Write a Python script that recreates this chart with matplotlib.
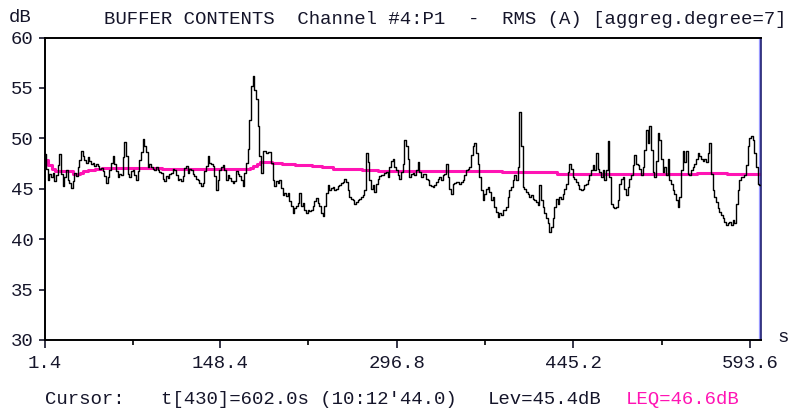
import numpy as np
import matplotlib
matplotlib.use('Agg')
import matplotlib.pyplot as plt

# RMS (A) levels, one sample every 1.4 s
LEV_1 = [48.4, 47.0, 45.9, 46.5, 46.2, 46.6, 45.8, 46.4, 47.4, 48.4,
         46.5, 45.3, 46.2, 46.9, 45.9, 45.6, 45.1, 45.8, 46.6, 46.3,
         47.2, 47.9, 48.7, 48.2, 47.9, 47.6, 48.1, 47.8, 47.5, 47.6,
         47.3, 47.5, 47.3, 47.0, 47.1, 46.8, 46.3, 45.6, 46.2, 46.9,
         47.6, 48.2, 47.5, 46.8, 46.2, 46.5, 46.4, 48.1, 49.6, 48.2,
         46.5, 46.2, 46.8, 46.9, 46.4, 45.9, 46.8, 47.9, 48.6, 49.9,
         49.2, 48.6, 47.2, 47.5, 47.2, 47.0, 46.9, 47.2, 46.9, 46.7,
         46.6, 46.0, 45.8, 46.3, 46.1, 46.5, 46.6, 47.0, 46.9, 46.4,
         45.9, 46.0, 45.8, 46.3]
LEV_2 = [47.1, 47.3, 46.6, 47.0, 46.9, 46.5, 46.3, 46.0, 45.9, 45.6,
         45.3, 45.6, 46.8, 47.3, 48.2, 47.6, 47.5, 47.3, 46.3, 44.9,
         45.9, 46.9, 47.2, 47.4, 46.9, 45.9, 46.4, 46.1, 45.8, 45.6,
         45.8, 46.8, 46.5, 46.3, 45.9, 45.3, 46.6, 47.6, 48.9, 51.8,
         55.2, 56.2, 54.8, 53.9, 51.2, 48.2, 46.6, 48.7, 48.7, 48.5,
         48.6, 48.6, 47.6, 45.9, 45.3, 45.8, 45.6, 45.9, 45.1, 44.4,
         44.6, 44.3, 44.6, 43.8, 43.3, 42.6, 43.1, 43.3, 43.6, 44.6,
         43.3, 43.6, 42.9, 42.6, 42.9, 42.8, 42.9, 43.3, 43.8, 44.1,
         43.6, 43.3, 42.6, 42.3, 43.3, 44.6, 45.4]
LEV_3 = [44.9, 45.1, 45.2, 44.9, 45.0, 45.3, 45.4, 45.6, 45.7, 46.0,
         45.7, 44.9, 44.2, 44.0, 43.9, 43.5, 43.7, 43.9, 44.0, 44.2,
         44.4, 44.9, 48.5, 47.7, 45.9, 45.0, 45.4, 44.7, 45.5, 46.0,
         46.3, 46.4, 46.4, 46.6, 46.7, 46.2, 47.2, 47.8, 48.0, 47.2,
         46.9, 46.4, 46.0, 46.7, 47.5, 49.8, 49.2, 48.0, 46.2, 46.5,
         46.6, 46.4, 46.9, 47.7, 46.7, 46.2, 46.5, 46.5, 46.0, 45.9,
         45.4, 45.3, 45.2, 45.4, 45.7, 46.0, 46.2, 45.9, 46.4, 46.5,
         47.5, 46.2, 45.0, 44.5, 45.5, 45.6, 45.7, 45.7, 45.5, 45.7,
         45.9, 46.4, 46.9, 47.0, 47.2, 48.3, 49.2]
LEV_4 = [49.5, 48.5, 47.5, 46.2, 44.9, 43.9, 44.5, 45.0, 45.2, 44.7,
         43.9, 44.2, 43.2, 42.7, 42.2, 42.6, 42.4, 42.9, 42.9, 43.2,
         44.2, 44.9, 45.2, 45.9, 46.4, 45.9, 47.2, 52.6, 49.2, 45.2,
         45.0, 44.7, 44.5, 44.2, 44.4, 44.0, 43.9, 43.7, 43.4, 45.4,
         43.9, 43.2, 42.6, 42.1, 41.6, 40.7, 41.2, 42.1, 43.2, 44.0,
         43.5, 44.2, 44.0, 44.5, 45.0, 45.5, 46.7, 47.5, 47.0, 46.2,
         46.0, 45.7, 45.4, 45.0, 44.9, 45.0, 45.4, 45.5, 45.9, 46.4,
         46.9, 47.4, 46.9, 48.5, 47.0, 46.7, 46.2, 46.9, 45.9, 46.9,
         49.7, 46.2, 43.5, 43.2, 43.1, 43.2, 43.9]
LEV_5 = [45.5, 46.0, 46.2, 45.0, 44.4, 45.2, 46.0, 46.4, 47.4, 48.3,
         47.5, 47.4, 47.0, 46.4, 47.2, 48.8, 50.8, 49.5, 51.2, 48.8,
         46.7, 46.2, 47.8, 50.5, 49.8, 48.0, 46.7, 47.2, 46.4, 48.0,
         45.9, 45.5, 44.9, 44.5, 43.9, 43.2, 44.2, 46.9, 48.7, 47.7,
         48.7, 46.5, 46.4, 46.9, 47.2, 47.5, 48.0, 48.5, 48.2, 48.0,
         47.8, 48.0, 47.7, 48.5, 49.5, 46.5, 44.9, 44.2, 43.7, 43.1,
         42.7, 42.4, 42.1, 41.7, 41.4, 41.6, 41.7, 41.4, 41.9, 41.6,
         43.5, 44.9, 45.9, 46.2, 46.2, 46.4, 47.4, 49.2, 50.0, 50.2,
         49.8, 48.5, 47.2, 45.5, 45.4]

DT = 1.4  # s per sample (aggreg.degree=7)

# running LEQ (pink), read as (time s, dB) steps
LEQ_T = [1.4, 4.2, 7.0, 9.8, 25.2, 30.8, 33.6, 37.8, 43.4, 49.0, 99.4,
         173.6, 176.4, 179.2, 182.0, 191.8, 200.2, 211.4, 225.4, 233.8,
         243.6, 267.4, 281.4, 385.0, 431.2, 549.2, 574.0, 602.0]
LEQ_DB = [47.9, 47.4, 47.0, 46.8, 46.5, 46.6, 46.8, 46.9, 47.0, 47.1, 47.0,
          47.1, 47.3, 47.5, 47.7, 47.6, 47.5, 47.4, 47.25, 47.15,
          47.0, 46.9, 46.8, 46.65, 46.5, 46.6, 46.5, 46.5]

X_TICKS = [1.4, 148.4, 296.8, 445.2, 593.6]
Y_TICKS = [30, 35, 40, 45, 50, 55, 60]

TITLE = "BUFFER CONTENTS  Channel #4:P1  -  RMS (A) [aggreg.degree=7]"
CURSOR = "t[430]=602.0s (10:12'44.0)"
LEV_S = "Lev=45.4dB"
LEQ_S = "LEQ=46.6dB"
#=============================================
lev = np.array(LEV_1 + LEV_2 + LEV_3 + LEV_4 + LEV_5)
t = DT*np.arange(1, len(lev)+1)

FONT = 'Liberation Mono'
FS = 13.7
TXT = '#15152a'
PINK = '#ff14b4'

plt.rcParams.update({'font.family': FONT, 'font.size': FS})
fig = plt.figure(figsize=(8, 4.08), dpi=100)
W, H = 800, 408
ax = fig.add_axes([45/W, 1-340/H, 716/W, 302.5/H])

ax.axvline(602.0, color='#9a9aff', lw=1.6, zorder=1)
ax.step(LEQ_T, LEQ_DB, where='post', color=PINK, lw=2.2, zorder=2)
ax.plot(t, lev, drawstyle='steps-mid', color='black', lw=1.0, zorder=3)

ax.set_xlim(1.4, 602.8)
ax.set_ylim(30, 60)
ax.set_xticks(X_TICKS)
ax.set_xticklabels([f'{v:.1f}' for v in X_TICKS])
minor = [(a+b)/2 for a, b in zip(X_TICKS[:-1], X_TICKS[1:])]
ax.set_xticks(minor, minor=True)
ax.set_yticks(Y_TICKS)
ax.tick_params(axis='x', which='major', length=5.8, width=1.2, pad=5.0, colors=TXT)
ax.tick_params(axis='x', which='minor', length=3.6, width=1.2)
ax.tick_params(axis='y', length=4.3, width=1.2, pad=4.0, colors=TXT)
for s in ['left', 'bottom', 'top']:
    ax.spines[s].set_linewidth(1.4)
    ax.spines[s].set_color('black')
ax.spines['right'].set_linewidth(1.2)
ax.spines['right'].set_color('#202070')

fig.text(9/W, 1-17/H, 'dB', ha='left', va='center', color=TXT)
fig.text(104/W, 1-19/H, TITLE, ha='left', va='center', color=TXT)
fig.text(777/W, 1-338/H, 's', ha='left', va='center', color=TXT)
fig.text(45/W, 9/H, 'Cursor:', ha='left', va='center', color=TXT)
fig.text(161/W, 9/H, CURSOR, ha='left', va='center', color=TXT)
fig.text(488/W, 9/H, LEV_S, ha='left', va='center', color=TXT)
fig.text(626/W, 9/H, LEQ_S, ha='left', va='center', color=PINK)

fig.savefig('out.png', dpi=100, facecolor='white')
